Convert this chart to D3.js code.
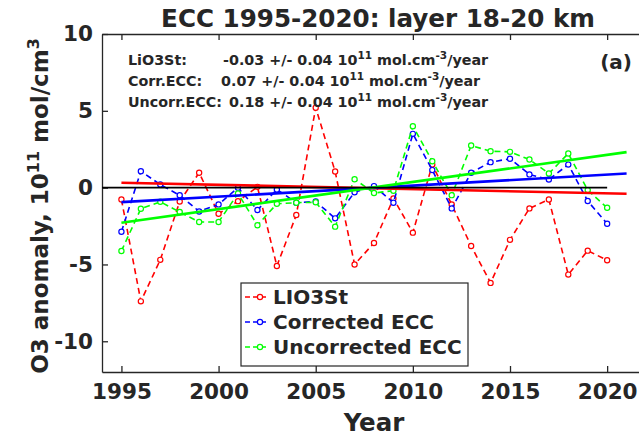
<!DOCTYPE html>
<meta charset="utf-8">
<html>
<head>
<style>
  body { margin: 0; background: #fff; }
  svg text { font-family: "DejaVu Sans", sans-serif; font-weight: bold; fill: #262626; }
</style>
</head>
<body>
<script src="https://d3js.org/d3.v7.min.js"></script>
<script>
// data
var years = d3.range(1995, 2021);
var lio3st = [-0.77, -7.4, -4.7, -0.9, 0.97, -1.7, -0.88, 0.05, -5.1, -1.78,
              5.2, 1.05, -5.0, -3.6, -0.7, -2.93, 1.5, -1.1, -3.8, -6.2,
              -3.4, -1.35, -0.77, -5.66, -4.1, -4.73];
var corrEcc = [-2.87, 1.07, 0.2, -0.5, -1.55, -1.09, 0.0, -1.46, -0.12, -0.98,
               -0.9, -2.0, -0.3, 0.1, -0.98, 3.5, 1.14, -1.35, 0.97, 1.66,
               1.88, 0.86, 0.53, 1.5, -0.87, -2.35];
var uncorrEcc = [-4.12, -1.37, -0.92, -1.59, -2.24, -2.24, -0.38, -2.45, -1.05, -0.98,
                 -0.95, -2.54, 0.55, -0.35, -0.2, 4.0, 1.72, -0.49, 2.74, 2.37,
                 2.33, 1.83, 0.92, 2.22, -0.16, -1.31];
// linear trends, [start, end] values
var trendYears = [1995, 2021];
var lio3Trend = [0.32, -0.40];
var corrTrend = [-0.94, 0.92];
var uncorrTrend = [-2.28, 2.31];
var zeroYears = [1994, 2020];

var xTicks = [1995, 2000, 2005, 2010, 2015, 2020];
var yTicks = [-10, -5, 0, 5, 10];
var seriesNames = ["LIO3St", "Corrected ECC", "Uncorrected ECC"];
var colors = ["#ff0000", "#0000ff", "#00ff00"];

var W = 639, H = 436;
var pL = 102, pT = 34, pR = 646, pB = 372;

var svg = d3.select("body").append("svg")
    .attr("width", W).attr("height", H);

var x = d3.scaleLinear().domain([1994, 2022]).range([pL, pR]);
var y = d3.scaleLinear().domain([-12, 10]).range([pB, pT]);

var axisColor = "#262626";
var plain = function(d) { return String(d); };  // hyphen minus like matlab

// axes: bottom, left with labels; top, right without
var gx = svg.append("g")
    .attr("transform", "translate(0," + pB + ")")
    .call(d3.axisBottom(x).tickValues(xTicks).tickFormat(plain)
          .tickSizeInner(-6).tickSizeOuter(0).tickPadding(12));
var gxTop = svg.append("g")
    .attr("transform", "translate(0," + pT + ")")
    .call(d3.axisTop(x).tickValues(xTicks).tickFormat("")
          .tickSizeInner(-6).tickSizeOuter(0));
var gy = svg.append("g")
    .attr("transform", "translate(" + pL + ",0)")
    .call(d3.axisLeft(y).tickValues(yTicks).tickFormat(plain)
          .tickSizeInner(-6).tickSizeOuter(0).tickPadding(9));
var gyR = svg.append("g")
    .attr("transform", "translate(" + pR + ",0)")
    .call(d3.axisRight(y).tickValues(yTicks).tickFormat("")
          .tickSizeInner(-6).tickSizeOuter(0));

[gx, gxTop, gy, gyR].forEach(function(g) {
  g.selectAll("path, line").attr("stroke", axisColor).attr("stroke-width", 1.3);
  g.selectAll("text").style("font-size", "21.5px").attr("fill", axisColor)
    .style("font-family", "DejaVu Sans").style("font-weight", "bold");
});

// dashed series
var line = d3.line()
    .x(function(d, i) { return x(years[i]); })
    .y(function(d) { return y(d); });

[lio3st, corrEcc, uncorrEcc].forEach(function(vals, k) {
  svg.append("path")
    .attr("d", line(vals))
    .attr("fill", "none")
    .attr("stroke", colors[k])
    .attr("stroke-width", 1.6)
    .attr("stroke-dasharray", "6,4");
  svg.selectAll(null)
    .data(vals)
    .enter().append("circle")
    .attr("cx", function(d, i) { return x(years[i]); })
    .attr("cy", function(d) { return y(d); })
    .attr("r", 2.6)
    .attr("fill", "#fff")
    .attr("stroke", colors[k])
    .attr("stroke-width", 1.2);
});

// trend lines
[lio3Trend, corrTrend, uncorrTrend].forEach(function(vals, k) {
  svg.append("line")
    .attr("x1", x(trendYears[0])).attr("x2", x(trendYears[1]))
    .attr("y1", y(vals[0])).attr("y2", y(vals[1]))
    .attr("stroke", colors[k])
    .attr("stroke-width", 2.6);
});

// zero line
svg.append("line")
  .attr("x1", x(zeroYears[0])).attr("x2", x(zeroYears[1]))
  .attr("y1", y(0)).attr("y2", y(0))
  .attr("stroke", "#000").attr("stroke-width", 1.6);

// trend annotations
var ann = [
  {label: "LiO3St:", val: "-0.03 +/- 0.04 10", vx: 223},
  {label: "Corr.ECC:", val: "0.07 +/- 0.04 10", vx: 221},
  {label: "Uncorr.ECC:", val: "0.18 +/- 0.04 10", vx: 229}
];
ann.forEach(function(a, i) {
  var yy = 64.5 + i * 21.2;
  svg.append("text").attr("x", 128).attr("y", yy)
    .style("font-size", "14.3px").attr("fill", "#000").text(a.label);
  var t = svg.append("text").attr("x", a.vx).attr("y", yy)
    .style("font-size", "14.3px").attr("fill", "#000");
  t.append("tspan").text(a.val);
  t.append("tspan").attr("dy", -6).style("font-size", "10.5px").text("11");
  t.append("tspan").attr("dy", 6).text(" mol.cm");
  t.append("tspan").attr("dy", -6).style("font-size", "10.5px").text("-3");
  t.append("tspan").attr("dy", 6).text("/year");
});

svg.append("text").attr("x", 632).attr("y", 69)
  .attr("text-anchor", "end").style("font-size", "20px").attr("fill", "#000").text("(a)");

// title
svg.append("text").attr("x", 378).attr("y", 27)
  .attr("text-anchor", "middle").style("font-size", "24.6px").attr("fill", "#000")
  .text("ECC 1995-2020: layer 18-20 km");

// x label
svg.append("text").attr("x", 374).attr("y", 431)
  .attr("text-anchor", "middle").style("font-size", "24.5px")
  .text("Year");

// y label
var yl = svg.append("text")
  .attr("transform", "translate(48,206) rotate(-90)")
  .attr("text-anchor", "middle").style("font-size", "23px");
yl.append("tspan").text("O3 anomaly, 10");
yl.append("tspan").attr("dy", -9).style("font-size", "16px").text("11");
yl.append("tspan").attr("dy", 9).text(" mol/cm");
yl.append("tspan").attr("dy", -9).style("font-size", "16px").text("3");

// legend
var lg = svg.append("g");
lg.append("rect").attr("x", 241).attr("y", 283).attr("width", 227).attr("height", 83)
  .attr("fill", "#fff").attr("stroke", axisColor).attr("stroke-width", 1.2);
seriesNames.forEach(function(name, i) {
  var cy = 297 + i * 25;
  lg.append("line").attr("x1", 245).attr("x2", 266).attr("y1", cy).attr("y2", cy)
    .attr("stroke", colors[i]).attr("stroke-width", 1.5).attr("stroke-dasharray", "5,3");
  lg.append("circle").attr("cx", 260).attr("cy", cy).attr("r", 2.6)
    .attr("fill", "#fff").attr("stroke", colors[i]).attr("stroke-width", 1.2);
  lg.append("text").attr("x", 273).attr("y", cy + 7)
    .style("font-size", "20px").attr("fill", "#000").text(name);
});
</script>
</body>
</html>
